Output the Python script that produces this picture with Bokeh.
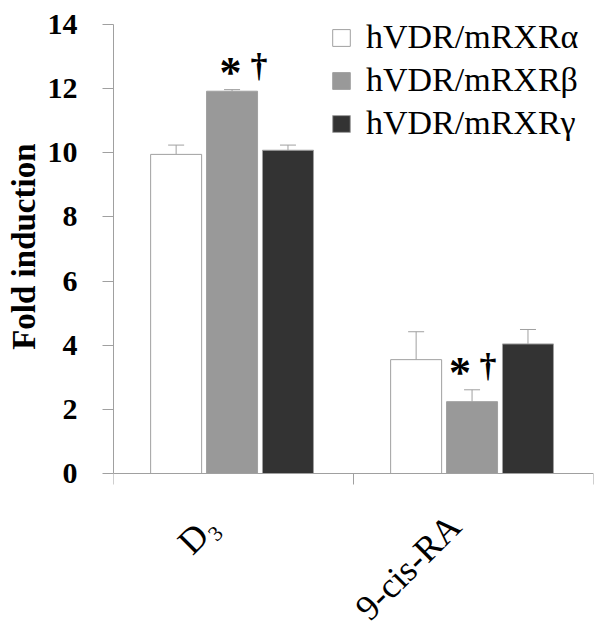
from math import pi
from bokeh.plotting import figure
from bokeh.models import (ColumnDataSource, Range1d, FixedTicker, Whisker, TeeHead,
                          Legend, LegendItem, Title)
from bokeh.core.properties import value
from bokeh.embed import file_html
from bokeh.resources import INLINE

# ---- data ----
treatments = ["D₃", "9-cis-RA"]
series = ["hVDR/mRXRα", "hVDR/mRXRβ", "hVDR/mRXRγ"]
alpha_mean = [9.95, 3.55]
alpha_err = [0.29, 0.87]
beta_mean = [11.92, 2.24]
beta_err = [0.05, 0.37]
gamma_mean = [10.08, 4.04]
gamma_err = [0.16, 0.45]
star_marks = ["*", "*"]
dagger_marks = ["†", "†"]
y_ticks = [0, 2, 4, 6, 8, 10, 12, 14]
y_min, y_max = 0, 14

# ---- layout / style ----
SERIF = "Liberation Serif"
GRAY = "#a0a0a0"
fills = ["#ffffff", "#999999", "#333333"]
W, H = 603, 630
AXIS_TOP_PX, AXIS_BOTTOM_PX = 24, 473          # pixel rows of y = 14 and y = 0
ppu = (AXIS_BOTTOM_PX - AXIS_TOP_PX) / (y_max - y_min)
bar_width = 0.2125
bar_step = 0.233
bar_shift = -0.006
label_dx = [-0.0925, -0.078]
star_dx = [-1.5, -12]
dagger_dx = [27, 16]

p = figure(width=W, height=H, output_backend="svg", toolbar_location=None,
           x_range=Range1d(0, len(treatments)),
           y_range=Range1d(y_min - (H - AXIS_BOTTOM_PX) / ppu, y_max + AXIS_TOP_PX / ppu),
           min_border_left=113, min_border_right=10, min_border_top=0, min_border_bottom=0)
p.outline_line_color = None
p.xgrid.visible = False
p.ygrid.visible = False

# x axis drawn at y = 0: ticks at category boundaries (minor), labels at centres (major)
label_pos = [i + 0.5 + d for i, d in enumerate(label_dx)]
xa = p.xaxis[0]
xa.fixed_location = y_min
xa.ticker = FixedTicker(ticks=label_pos, minor_ticks=list(range(len(treatments) + 1)))
xa.major_label_overrides = {pos: t for pos, t in zip(label_pos, treatments)}
xa.major_label_orientation = pi / 4
xa.major_label_standoff = 36
xa.major_label_text_font = SERIF
xa.major_label_text_font_size = "36px"
xa.major_label_text_color = "black"
xa.axis_line_color = GRAY
xa.minor_tick_line_color = GRAY
xa.minor_tick_out = 11
xa.minor_tick_in = 0
xa.major_tick_line_color = None
xa.major_tick_out = 0
xa.major_tick_in = 0

ya = p.yaxis[0]
ya.bounds = (y_min, y_max)
ya.ticker = FixedTicker(ticks=y_ticks)
ya.axis_line_color = GRAY
ya.major_tick_line_color = GRAY
ya.major_tick_out = 11
ya.major_tick_in = 0
ya.minor_tick_line_color = None
ya.major_label_text_font = SERIF
ya.major_label_text_font_size = "30px"
ya.major_label_text_font_style = "bold"
ya.major_label_text_color = "black"
ya.major_label_standoff = 25

# y axis title, aligned with the 0..14 span of the axis
p.add_layout(Title(text="Fold induction", align="right", offset=143, standoff=5,
                   vertical_align="bottom", text_font=SERIF, text_font_size="33px",
                   text_font_style="bold", text_color="black"), "left")

means = [alpha_mean, beta_mean, gamma_mean]
errs = [alpha_err, beta_err, gamma_err]
renderers = []
sources = []
for j, (m, e) in enumerate(zip(means, errs)):
    xs = [i + 0.5 + (j - 1) * bar_step + bar_shift for i in range(len(treatments))]
    src = ColumnDataSource(dict(x=xs, top=m, up=[a + b for a, b in zip(m, e)]))
    sources.append(src)
    r = p.vbar(x="x", top="top", bottom=0, width=bar_width, source=src,
               fill_color=fills[j], line_color=GRAY, line_width=1)
    renderers.append(r)
    w = Whisker(source=src, base="x", lower="top", upper="up", dimension="height",
                line_color=GRAY, line_width=1, lower_head=None,
                upper_head=TeeHead(size=16, line_color=GRAY, line_width=1))
    p.add_layout(w)

# significance marks on beta bars
bsrc = sources[1]
msrc = ColumnDataSource(dict(x=bsrc.data["x"], y=bsrc.data["up"], star=star_marks,
                             dagger=dagger_marks, sdx=star_dx, ddx=dagger_dx))
p.text(x="x", y="y", text="star", source=msrc, x_offset="sdx", y_offset=-17,
       text_font=value(SERIF), text_font_size="44px", text_font_style="bold",
       text_align="center", text_baseline="alphabetic", text_color="black")
p.text(x="x", y="y", text="dagger", source=msrc, x_offset="ddx", y_offset=-24,
       text_font=value(SERIF), text_font_size="34px", text_font_style="bold",
       text_align="center", text_baseline="alphabetic", text_color="black")

legend = Legend(items=[LegendItem(label=s, renderers=[r]) for s, r in zip(series, renderers)],
                location=(217, H - 142), orientation="vertical",
                glyph_width=22, glyph_height=21, label_standoff=14, spacing=5,
                padding=0, margin=0, border_line_color=None, background_fill_alpha=0,
                label_text_font=SERIF, label_text_font_size="34px", label_text_color="black")
p.add_layout(legend)

open("out.html", "w").write(file_html(p, INLINE))
